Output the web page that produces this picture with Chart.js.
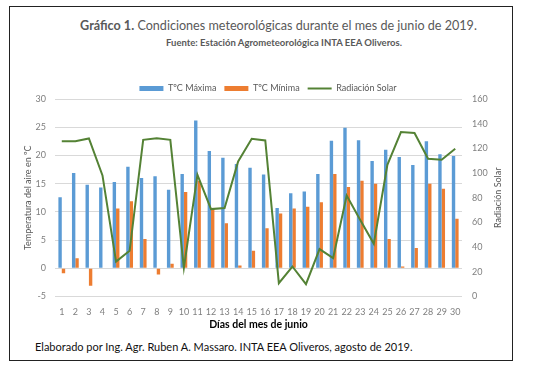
<!DOCTYPE html>
<html>
<head>
<meta charset="utf-8">
<script src="https://cdn.jsdelivr.net/npm/chart.js@4.4.0/dist/chart.umd.min.js"></script>
<style>
  body { margin: 0; background: #fff; font-family: Lato, 'Open Sans', sans-serif; }
  #frame { position: absolute; left: 9px; top: 6px; width: 502px; height: 353px; border: 1px solid #222; }
  #title { position: absolute; left: 0; top: 18px; width: 557px; text-align: center; font-size: 12.6px; color: #595959; white-space: nowrap; }
  #subtitle { position: absolute; left: 0; top: 37px; width: 568px; text-align: center; font-size: 9.5px; font-weight: bold; color: #595959; white-space: nowrap; }
  #footer { position: absolute; left: 35px; top: 340px; font-size: 11px; color: #111; white-space: nowrap; }
  #wrap { position: absolute; left: 10px; top: 74px; width: 502px; height: 263px; }
</style>
</head>
<body>
<div id="frame"></div>
<div id="title"><b>Gráfico 1.</b> Condiciones meteorológicas durante el mes de junio de 2019.</div>
<div id="subtitle">Fuente: Estación Agrometeorológica INTA EEA Oliveros.</div>
<div id="wrap"><canvas id="comboChart"></canvas></div>
<div id="footer">Elaborado por Ing. Agr. Ruben A. Massaro. INTA EEA Oliveros, agosto de 2019.</div>
<script>
// dias del mes de junio
var dias = [];
for (var d = 1; d <= 30; d++) dias.push(String(d));

// temperaturas (ºC)
var tempMaxima = [12.6, 16.9, 14.8, 14.3, 15.3, 18.0, 16.0, 16.3, 13.9, 16.7,
                  26.2, 20.8, 19.6, 18.5, 17.8, 16.6, 10.7, 13.3, 13.6, 16.7,
                  22.6, 24.9, 22.7, 19.0, 21.0, 19.7, 18.3, 22.5, 20.2, 19.9];
var tempMinima = [-0.9, 1.8, -3.1, 0, 10.6, 11.9, 5.2, -1.1, 0.8, 13.5,
                  15.5, 10.6, 8.0, 0.5, 3.1, 7.1, 9.7, 10.6, 10.9, 11.7,
                  16.7, 14.4, 15.5, 15.0, 5.2, 0.3, 3.6, 15.0, 14.1, 8.8];
// radiacion solar (eje derecho)
var radiacion = [125.7, 125.7, 128, 98.1, 28.3, 37, 126.9, 128.2, 126.9, 23.3,
                 98.6, 70.8, 71.6, 109.4, 127.8, 126.4, 10.8, 24.3, 10.0, 38.4,
                 31.1, 81.8, 62, 42.7, 106.7, 133.2, 132.4, 111.6, 110.8, 119.7];

Chart.defaults.font.family = 'Lato';
Chart.defaults.color = '#7f7f7f';

// la leyenda queda mas pegada al area del grafico y un poco a la derecha
var tightLegend = {
    id: 'tightLegend',
    afterInit: function(chart) {
        var legend = chart.legend;
        if (!legend) return;
        var origFit = legend.fit;
        legend.fit = function() {
            origFit.call(this);
            this.height -= 4;
        };
        var origDraw = legend.draw;
        legend.draw = function() {
            var c = this.ctx;
            c.save();
            c.translate(7, 0);
            origDraw.apply(this, arguments);
            c.restore();
        };
    }
};

// titulo del eje derecho, girado igual que el izquierdo (de abajo hacia arriba)
var rightTitle = {
    id: 'rightTitle',
    afterDraw: function(chart) {
        var c = chart.ctx;
        var area = chart.chartArea;
        c.save();
        c.translate(488, (area.top + area.bottom) / 2);
        c.rotate(-Math.PI / 2);
        c.font = '9px Lato';
        c.fillStyle = '#595959';
        c.textAlign = 'center';
        c.textBaseline = 'middle';
        c.fillText('Radiación Solar', 0, 0);
        c.restore();
    }
};

var ctx = document.getElementById('comboChart').getContext('2d');
var myChart = new Chart(ctx, {
    type: 'bar',
    data: {
        labels: dias,
        datasets: [{
            label: 'TºC Máxima',
            data: tempMaxima,
            backgroundColor: '#5B9BD5',
            yAxisID: 'y',
            categoryPercentage: 0.5,
            barPercentage: 1.0,
            order: 1
        }, {
            label: 'TºC Mínima',
            data: tempMinima,
            backgroundColor: '#ED7D31',
            yAxisID: 'y',
            categoryPercentage: 0.5,
            barPercentage: 1.0,
            order: 1
        }, {
            type: 'line',
            label: 'Radiación Solar',
            data: radiacion,
            borderColor: '#548235',
            backgroundColor: '#548235',
            borderWidth: 2,
            pointRadius: 0,
            tension: 0,
            yAxisID: 'y1',
            order: 0
        }]
    },
    plugins: [tightLegend, rightTitle],
    options: {
        responsive: true,
        maintainAspectRatio: false,
        animation: false,
        layout: { padding: { top: 2, bottom: 0, left: 0, right: 0 } },
        plugins: {
            tooltip: { enabled: false },
            legend: {
                position: 'top',
                labels: {
                    color: '#595959',
                    font: { size: 9 },
                    usePointStyle: true,
                    pointStyleWidth: 24,
                    boxHeight: 5,
                    padding: 8,
                    sort: function(a, b) { return a.datasetIndex - b.datasetIndex; },
                    generateLabels: function(chart) {
                        var items = Chart.defaults.plugins.legend.labels.generateLabels(chart);
                        items.forEach(function(it) {
                            it.pointStyle = it.datasetIndex === 2 ? 'line' : 'rect';
                            if (it.datasetIndex !== 2) it.lineWidth = 0;
                        });
                        return items;
                    }
                }
            }
        },
        scales: {
            x: {
                grid: { display: false, drawTicks: false },
                border: { display: false },
                ticks: { color: '#7f7f7f', font: { size: 9 }, padding: 10, maxRotation: 0, autoSkip: false },
                title: {
                    display: true,
                    text: 'Días del mes de junio',
                    color: '#000',
                    font: { size: 10.5, weight: 'bold' },
                    padding: { top: 2, bottom: 6 }
                },
                afterFit: function(scale) { scale.height = 40.5; }
            },
            y: {
                position: 'left',
                min: -5,
                max: 30,
                ticks: { stepSize: 5, color: '#7f7f7f', font: { size: 9 }, padding: 9 },
                grid: { color: '#d9d9d9', drawTicks: false },
                border: { display: false },
                title: {
                    display: true,
                    text: 'Temperatura del aire en ºC',
                    color: '#595959',
                    font: { size: 9 },
                    padding: 13
                },
                afterFit: function(scale) { scale.width = 45; }
            },
            y1: {
                position: 'right',
                min: 0,
                max: 160,
                ticks: { stepSize: 20, color: '#7f7f7f', font: { size: 9 }, padding: 10 },
                grid: { drawOnChartArea: false, drawTicks: false },
                border: { display: false },
                afterFit: function(scale) { scale.width = 50; }
            }
        }
    }
});
</script>
</body>
</html>
